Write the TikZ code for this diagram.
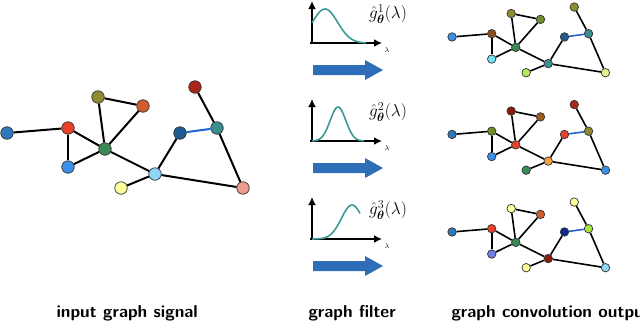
\RequirePackage{fix-cm}
\documentclass[tikz,border=0pt]{standalone}
\usepackage{amsmath}
\usepackage{tikz}
\usetikzlibrary{arrows.meta}
\definecolor{sblue}{HTML}{2F78BD}
\definecolor{red}{HTML}{E8432A}
\definecolor{olive}{HTML}{8E8C2C}
\definecolor{orng}{HTML}{CF5B2E}
\definecolor{grn}{HTML}{3A8A55}
\definecolor{blu}{HTML}{3C8FEA}
\definecolor{ylw}{HTML}{FFFF99}
\definecolor{lblu}{HTML}{8FD5F5}
\definecolor{dblu}{HTML}{1F5A91}
\definecolor{teal}{HTML}{3A8E8E}
\definecolor{dred}{HTML}{A8261A}
\definecolor{pink}{HTML}{EE9A90}
\definecolor{brwn}{HTML}{8B4F1F}
\definecolor{cyan}{HTML}{70E4F2}
\definecolor{lgrn}{HTML}{B5E85A}
\definecolor{lylw}{HTML}{E8F08A}
\definecolor{ogrn}{HTML}{6E8E2A}
\definecolor{mred}{HTML}{8B1A0A}
\definecolor{brn}{HTML}{9B5A1F}
\definecolor{ora}{HTML}{F2A042}
\definecolor{peri}{HTML}{7080E8}
\definecolor{navy}{HTML}{0C2A8E}
\definecolor{lime}{HTML}{A8E840}
\definecolor{wire}{HTML}{2262D4}
\definecolor{filt}{HTML}{3A9A96}
\definecolor{arrblue}{HTML}{2E6EB8}
\tikzset{sc/.style={x=1pt,y=-1pt,font=\fontsize{17.2}{20}\selectfont},
  gn/.style={circle,draw=black!80,line width=.7pt,inner sep=0pt},
  ge/.style={line width=#1,black},
  caption/.style={anchor=base west,font=\fontsize{17.2}{20}\sffamily\bfseries},
  axis/.style={line width=1.8pt,-{Latex[length=8pt,width=8pt]}}}

% #1 prefix, #2 shift, #3 scale, #4 node size, #5 edge width, #6 colours A..L
\newcommand\gsig[6]{%
  \begin{scope}[shift={#2},scale=#3]
    \foreach \n/\px/\py in {A/7/133,B/68/128,C/98/97,D/143/106,E/105/149,F/68/167,
      G/121/188,H/155/174,I/180/133,J/217/128,K/195/87,L/243/188}
      \coordinate (#1\n) at (\px,\py);
  \end{scope}
  \foreach \n/\c in {#6} \node[gn,minimum size=#4,fill=\c] (#1\n) at (#1\n) {};
  \foreach \a/\b in {A/B,B/F,B/E,F/E,E/C,C/D,D/E,E/H,H/G,H/I,J/K,J/L,H/L}
    \draw[ge=#5] (#1\a)--(#1\b);
  \draw[ge=#5,wire] (#1I)--(#1J);}

\begin{document}
\begin{tikzpicture}[sc]
  \clip (0,0) rectangle (640,325);
  % input signal
  \gsig{in}{(0,0)}{1}{12.5pt}{2pt}{A/sblue,B/red,C/olive,D/orng,E/grn,F/blu,G/ylw,H/lblu,I/dblu,J/teal,K/dred,L/pink}
  % filters
  \foreach \i/\y/\m/\s/\e in {1/0/13/18/54,2/98/26/11/52,3/196/40/15/48}{
    \draw[axis] (310,\y+43)--(382,\y+43);
    \draw[axis] (312,\y+44)--(312,\y+1);
    \draw[filt,line width=1.6pt] plot[domain=0:\e,samples=50] ({312+\x},{\y+43-34*exp(-((\x-\m)/\s)^2)});
    \node (g\i) at (388,\y+14) {$\hat g^{\i}_{\boldsymbol\theta}(\lambda)$};
    \node[font=\fontsize{7}{8}\selectfont] (l\i) at (387,\y+50) {$\lambda$};
    \fill[arrblue] (313,\y+65)--(365,\y+65)--(365,\y+60)--(383,\y+70)--(365,\y+80)--(365,\y+75)--(313,\y+75)--cycle;
  }
  % outputs
  \gsig{oa}{(447.5,-49.5)}{.65}{8.5pt}{1.6pt}{A/blu,B/brwn,C/olive,D/ogrn,E/grn,F/cyan,G/lgrn,H/teal,I/dblu,J/teal,K/olive,L/lylw}
  \gsig{ob}{(447.5,48)}{.65}{8.5pt}{1.6pt}{A/sblue,B/ogrn,C/mred,D/brn,E/red,F/blu,G/grn,H/ora,I/red,J/olive,K/dred,L/blu}
  \gsig{oc}{(447.5,145.5)}{.65}{8.5pt}{1.6pt}{A/sblue,B/red,C/ylw,D/orng,E/grn,F/peri,G/ylw,H/mred,I/navy,J/lime,K/ylw,L/lblu}
  % captions
  \node[caption] (t1) at (53,317) {input graph signal};
  \node[caption] (t2) at (305,317) {graph filter};
  \node[caption] (t3) at (448,317) {graph convolution output};
\end{tikzpicture}
\end{document}
